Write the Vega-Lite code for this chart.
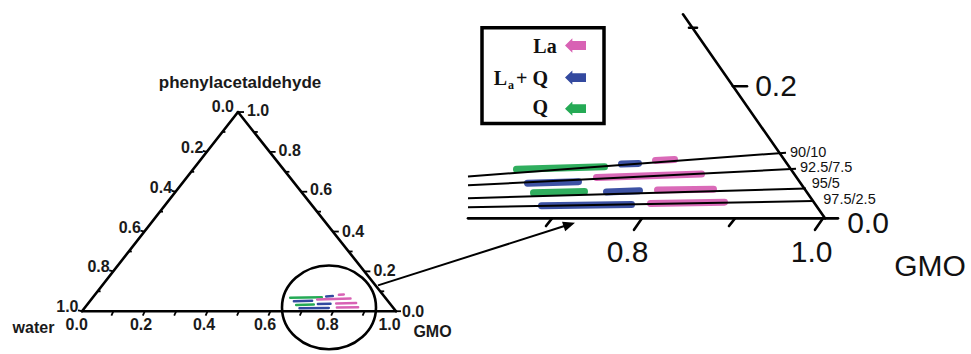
{
  "$schema": "https://vega.github.io/schema/vega-lite/v6.json",
  "width": 971,
  "height": 354,
  "autosize": {"type": "fit", "contains": "padding"},
  "padding": 0,
  "background": "white",
  "config": {"view": {"stroke": null}},
  "datasets": {
    "segs": [
      {"g": "frame", "x": 82, "y": 325, "x2": 396, "y2": 325},
      {"g": "frame", "x": 82, "y": 325, "x2": 238, "y2": 117},
      {"g": "frame", "x": 238, "y": 117, "x2": 396, "y2": 325},
      {"g": "frame", "x": 468, "y": 228, "x2": 838, "y2": 228},
      {"g": "frame", "x": 683, "y": 15, "x2": 825, "y2": 228},
      {"g": "frame", "x": 552, "y": 228, "x2": 546, "y2": 236},
      {"g": "frame", "x": 642, "y": 228, "x2": 634, "y2": 240},
      {"g": "frame", "x": 735, "y": 228, "x2": 729, "y2": 236},
      {"g": "frame", "x": 823, "y": 228, "x2": 815, "y2": 240},
      {"g": "frame", "x": 733, "y": 90, "x2": 747, "y2": 90},
      {"g": "frame", "x": 689, "y": 29, "x2": 697, "y2": 29},
      {"g": "tie", "x": 468, "y": 184.2, "x2": 786, "y2": 159.4},
      {"g": "tie", "x": 468, "y": 193.5, "x2": 796, "y2": 176.3},
      {"g": "tie", "x": 468, "y": 207, "x2": 806, "y2": 196.8},
      {"g": "tie", "x": 468, "y": 216.3, "x2": 813, "y2": 210},
      {"g": "tie", "x": 378, "y": 298, "x2": 566, "y2": 235.5},
      {"g": "tick", "x": 238, "y": 117, "x2": 244, "y2": 117},
      {"g": "tick", "x": 253.8, "y": 137.8, "x2": 257.8, "y2": 137.8},
      {"g": "tick", "x": 269.6, "y": 158.6, "x2": 275.6, "y2": 158.6},
      {"g": "tick", "x": 285.4, "y": 179.4, "x2": 289.4, "y2": 179.4},
      {"g": "tick", "x": 301.2, "y": 200.2, "x2": 307.2, "y2": 200.2},
      {"g": "tick", "x": 317, "y": 221, "x2": 321, "y2": 221},
      {"g": "tick", "x": 332.8, "y": 241.8, "x2": 338.8, "y2": 241.8},
      {"g": "tick", "x": 348.6, "y": 262.6, "x2": 352.6, "y2": 262.6},
      {"g": "tick", "x": 364.4, "y": 283.4, "x2": 370.4, "y2": 283.4},
      {"g": "tick", "x": 380.2, "y": 304.2, "x2": 384.2, "y2": 304.2},
      {"g": "tick", "x": 396, "y": 325, "x2": 401, "y2": 325},
      {"g": "tick", "x": 206.8, "y": 158.6, "x2": 202.8, "y2": 157.6},
      {"g": "tick", "x": 175.6, "y": 200.2, "x2": 171.6, "y2": 199.2},
      {"g": "tick", "x": 144.4, "y": 241.8, "x2": 140.4, "y2": 240.8},
      {"g": "tick", "x": 113.2, "y": 283.4, "x2": 109.2, "y2": 282.4},
      {"g": "tick", "x": 82, "y": 325, "x2": 78, "y2": 324},
      {"g": "tick", "x": 222.4, "y": 137.8, "x2": 225.4, "y2": 137.8},
      {"g": "tick", "x": 191.2, "y": 179.4, "x2": 194.2, "y2": 179.4},
      {"g": "tick", "x": 160, "y": 221, "x2": 163, "y2": 221},
      {"g": "tick", "x": 128.8, "y": 262.6, "x2": 131.8, "y2": 262.6},
      {"g": "tick", "x": 97.6, "y": 304.2, "x2": 100.6, "y2": 304.2},
      {"g": "tick", "x": 113.4, "y": 325, "x2": 111.4, "y2": 329.5},
      {"g": "tick", "x": 144.8, "y": 325, "x2": 142.8, "y2": 329.5},
      {"g": "tick", "x": 176.2, "y": 325, "x2": 174.2, "y2": 329.5},
      {"g": "tick", "x": 207.6, "y": 325, "x2": 205.6, "y2": 329.5},
      {"g": "tick", "x": 239, "y": 325, "x2": 237, "y2": 329.5},
      {"g": "tick", "x": 270.4, "y": 325, "x2": 268.4, "y2": 329.5},
      {"g": "tick", "x": 301.8, "y": 325, "x2": 299.8, "y2": 329.5},
      {"g": "tick", "x": 333.2, "y": 325, "x2": 331.2, "y2": 329.5},
      {"g": "tick", "x": 364.6, "y": 325, "x2": 362.6, "y2": 329.5}
    ],
    "bars": [
      {"panel": "zoom", "phase": "Q", "x": 516.5, "y": 176.8, "x2": 604.5, "y2": 174.2},
      {"panel": "zoom", "phase": "La+Q", "x": 621.5, "y": 171.3, "x2": 638.5, "y2": 170.7},
      {"panel": "zoom", "phase": "La", "x": 655.5, "y": 167.5, "x2": 674.5, "y2": 166.5},
      {"panel": "zoom", "phase": "La+Q", "x": 527.5, "y": 191.3, "x2": 578.5, "y2": 189.7},
      {"panel": "zoom", "phase": "La", "x": 596.5, "y": 185.3, "x2": 701.5, "y2": 181.7},
      {"panel": "zoom", "phase": "Q", "x": 533.5, "y": 201.4, "x2": 584.5, "y2": 200.1},
      {"panel": "zoom", "phase": "La+Q", "x": 606.5, "y": 200.4, "x2": 639.5, "y2": 199.1},
      {"panel": "zoom", "phase": "La", "x": 657.5, "y": 198.4, "x2": 713.5, "y2": 197.6},
      {"panel": "zoom", "phase": "La+Q", "x": 541.5, "y": 214.9, "x2": 631.5, "y2": 213.6},
      {"panel": "zoom", "phase": "La", "x": 650.5, "y": 212.4, "x2": 724.5, "y2": 211.1},
      {"panel": "inset", "phase": "Q", "x": 290.2, "y": 311, "x2": 321.8, "y2": 310.3},
      {"panel": "inset", "phase": "La+Q", "x": 326.2, "y": 309.5, "x2": 332.8, "y2": 309.1},
      {"panel": "inset", "phase": "La", "x": 338.9, "y": 307.9, "x2": 343.8, "y2": 307.5},
      {"panel": "inset", "phase": "La+Q", "x": 293.9, "y": 314.6, "x2": 312.1, "y2": 314},
      {"panel": "inset", "phase": "La", "x": 317.2, "y": 312.8, "x2": 350.5, "y2": 311.8},
      {"panel": "inset", "phase": "Q", "x": 296.2, "y": 318.5, "x2": 313.8, "y2": 318.1},
      {"panel": "inset", "phase": "La+Q", "x": 317.9, "y": 317.5, "x2": 330.5, "y2": 317.1},
      {"panel": "inset", "phase": "La", "x": 336.2, "y": 316.9, "x2": 356.1, "y2": 316.5},
      {"panel": "inset", "phase": "La+Q", "x": 299.5, "y": 321.9, "x2": 328.8, "y2": 321.5},
      {"panel": "inset", "phase": "La", "x": 336.9, "y": 321.2, "x2": 358.1, "y2": 320.8}
    ],
    "labels": [
      {"g": "tl", "t": "0.0", "x": 234, "y": 116.5},
      {"g": "tl", "t": "0.2", "x": 203.3, "y": 159.6},
      {"g": "tl", "t": "0.4", "x": 172.1, "y": 201.2},
      {"g": "tl", "t": "0.6", "x": 140.9, "y": 242.8},
      {"g": "tl", "t": "0.8", "x": 109.7, "y": 284.4},
      {"g": "tl", "t": "1.0", "x": 78.5, "y": 326},
      {"g": "tr", "t": "1.0", "x": 247, "y": 120.7},
      {"g": "tr", "t": "0.8", "x": 278.6, "y": 162.4},
      {"g": "tr", "t": "0.6", "x": 310, "y": 204},
      {"g": "tr", "t": "0.4", "x": 342, "y": 247},
      {"g": "tr", "t": "0.2", "x": 373.4, "y": 288.4},
      {"g": "tr", "t": "0.0", "x": 402, "y": 330.7},
      {"g": "tb", "t": "0.0", "x": 76.7, "y": 344.7},
      {"g": "tb", "t": "0.2", "x": 141, "y": 344.7},
      {"g": "tb", "t": "0.4", "x": 204, "y": 344.7},
      {"g": "tb", "t": "0.6", "x": 265, "y": 344.7},
      {"g": "tb", "t": "0.8", "x": 327.5, "y": 344.7},
      {"g": "tb", "t": "1.0", "x": 389.5, "y": 344.7},
      {"g": "name", "t": "water", "x": 33.5, "y": 347.5},
      {"g": "name", "t": "GMO", "x": 432.5, "y": 352},
      {"g": "title", "t": "phenylacetaldehyde", "x": 240, "y": 91.5},
      {"g": "big", "t": "0.2", "x": 776, "y": 100.7},
      {"g": "big", "t": "0.0", "x": 868, "y": 243.2},
      {"g": "big", "t": "0.8", "x": 627.5, "y": 273.2},
      {"g": "big", "t": "1.0", "x": 811.7, "y": 273.2},
      {"g": "big", "t": "GMO", "x": 930, "y": 288.2},
      {"g": "tie", "t": "90/10", "x": 790, "y": 163.9},
      {"g": "tie", "t": "92.5/7.5", "x": 800, "y": 180.1},
      {"g": "tie", "t": "95/5", "x": 811.7, "y": 196.3},
      {"g": "tie", "t": "97.5/2.5", "x": 823.3, "y": 212.8},
      {"g": "leg", "t": "La", "x": 556.7, "y": 55.5},
      {"g": "leg", "t": "L", "x": 507, "y": 88.5},
      {"g": "leg", "t": "+", "x": 527.5, "y": 88.5},
      {"g": "leg", "t": "Q", "x": 548, "y": 88.5},
      {"g": "leg", "t": "Q", "x": 548, "y": 119},
      {"g": "sub", "t": "a", "x": 508, "y": 93}
    ],
    "legendArrows": [
      {"phase": "La", "x": 575.5, "y": 47.5},
      {"phase": "La+Q", "x": 575.5, "y": 81},
      {"phase": "Q", "x": 575.5, "y": 113.5}
    ],
    "legendBox": [{"x": 482, "y": 29, "x2": 604, "y2": 129}],
    "ellipse": [{"x": 329, "y": 321}],
    "arrowHead": [{"x": 575, "y": 232.5}]
  },
  "encoding": {
    "x": {"field": "x", "type": "quantitative", "scale": {"domain": [0, 971], "nice": false, "zero": false}, "axis": null},
    "y": {"field": "y", "type": "quantitative", "scale": {"domain": [0, 354], "nice": false, "zero": false, "reverse": true}, "axis": null}
  },
  "layer": [
    {
      "data": {"name": "bars"},
      "transform": [{"filter": "datum.panel === 'zoom'"}],
      "mark": {"type": "rule", "strokeWidth": 7, "strokeCap": "round", "opacity": 0.95},
      "encoding": {
        "x2": {"field": "x2"},
        "y2": {"field": "y2"},
        "color": {"field": "phase", "type": "nominal", "scale": {"domain": ["La", "La+Q", "Q"], "range": ["#d862b4", "#33499f", "#25aa55"]}, "legend": null}
      }
    },
    {
      "data": {"name": "bars"},
      "transform": [{"filter": "datum.panel === 'inset'"}],
      "mark": {"type": "rule", "strokeWidth": 2.5, "strokeCap": "round"},
      "encoding": {
        "x2": {"field": "x2"},
        "y2": {"field": "y2"},
        "color": {"field": "phase", "type": "nominal", "scale": {"domain": ["La", "La+Q", "Q"], "range": ["#d862b4", "#33499f", "#25aa55"]}, "legend": null}
      }
    },
    {
      "data": {"name": "segs"},
      "transform": [{"filter": "datum.g === 'frame'"}],
      "mark": {"type": "rule", "strokeWidth": 2.6, "color": "black", "strokeCap": "round"},
      "encoding": {"x2": {"field": "x2"}, "y2": {"field": "y2"}}
    },
    {
      "data": {"name": "segs"},
      "transform": [{"filter": "datum.g === 'tie'"}],
      "mark": {"type": "rule", "strokeWidth": 2, "color": "black"},
      "encoding": {"x2": {"field": "x2"}, "y2": {"field": "y2"}}
    },
    {
      "data": {"name": "segs"},
      "transform": [{"filter": "datum.g === 'tick'"}],
      "mark": {"type": "rule", "strokeWidth": 1.8, "color": "black"},
      "encoding": {"x2": {"field": "x2"}, "y2": {"field": "y2"}}
    },
    {
      "data": {"name": "ellipse"},
      "mark": {"type": "point", "shape": "M 1 0 C 1 0.4916 0.5523 0.89 0 0.89 C -0.5523 0.89 -1 0.4916 -1 0 C -1 -0.4916 -0.5523 -0.89 0 -0.89 C 0.5523 -0.89 1 -0.4916 1 0 Z", "size": 8836, "filled": false, "stroke": "black", "strokeWidth": 2.6, "opacity": 1}
    },
    {
      "data": {"name": "arrowHead"},
      "mark": {"type": "point", "shape": "M 0 0 L -1 -0.42 L -1 0.42 Z", "size": 576, "angle": 341.6, "filled": true, "color": "black", "opacity": 1}
    },
    {
      "data": {"name": "legendBox"},
      "mark": {"type": "rect", "filled": false, "stroke": "black", "strokeWidth": 3.5},
      "encoding": {"x2": {"field": "x2"}, "y2": {"field": "y2"}}
    },
    {
      "data": {"name": "legendArrows"},
      "mark": {"type": "point", "shape": "M -1 0 L -0.3 -0.68 L -0.3 -0.42 L 1 -0.42 L 1 0.42 L -0.3 0.42 L -0.3 0.68 Z", "size": 441, "filled": true, "opacity": 1},
      "encoding": {
        "color": {"field": "phase", "type": "nominal", "scale": {"domain": ["La", "La+Q", "Q"], "range": ["#d862b4", "#33499f", "#25aa55"]}, "legend": null}
      }
    },
    {
      "data": {"name": "labels"},
      "transform": [{"filter": "datum.g === 'tl'"}],
      "mark": {"type": "text", "align": "right", "baseline": "alphabetic", "font": "Liberation Sans", "fontSize": 16, "fontWeight": "bold", "color": "#1a1a1a"},
      "encoding": {"text": {"field": "t"}}
    },
    {
      "data": {"name": "labels"},
      "transform": [{"filter": "datum.g === 'tr'"}],
      "mark": {"type": "text", "align": "left", "baseline": "alphabetic", "font": "Liberation Sans", "fontSize": 16, "fontWeight": "bold", "color": "#1a1a1a"},
      "encoding": {"text": {"field": "t"}}
    },
    {
      "data": {"name": "labels"},
      "transform": [{"filter": "datum.g === 'tb' || datum.g === 'name'"}],
      "mark": {"type": "text", "align": "center", "baseline": "alphabetic", "font": "Liberation Sans", "fontSize": 16, "fontWeight": "bold", "color": "#1a1a1a"},
      "encoding": {"text": {"field": "t"}}
    },
    {
      "data": {"name": "labels"},
      "transform": [{"filter": "datum.g === 'title'"}],
      "mark": {"type": "text", "align": "center", "baseline": "alphabetic", "font": "Liberation Sans", "fontSize": 17, "fontWeight": "bold", "color": "#1a1a1a"},
      "encoding": {"text": {"field": "t"}}
    },
    {
      "data": {"name": "labels"},
      "transform": [{"filter": "datum.g === 'big'"}],
      "mark": {"type": "text", "align": "center", "baseline": "alphabetic", "font": "Liberation Sans", "fontSize": 30, "color": "#111111"},
      "encoding": {"text": {"field": "t"}}
    },
    {
      "data": {"name": "labels"},
      "transform": [{"filter": "datum.g === 'tie'"}],
      "mark": {"type": "text", "align": "left", "baseline": "alphabetic", "font": "Liberation Sans", "fontSize": 14.5, "color": "#111111"},
      "encoding": {"text": {"field": "t"}}
    },
    {
      "data": {"name": "labels"},
      "transform": [{"filter": "datum.g === 'leg'"}],
      "mark": {"type": "text", "align": "right", "baseline": "alphabetic", "font": "Liberation Serif", "fontSize": 20, "fontWeight": "bold", "color": "#111111"},
      "encoding": {"text": {"field": "t"}}
    },
    {
      "data": {"name": "labels"},
      "transform": [{"filter": "datum.g === 'sub'"}],
      "mark": {"type": "text", "align": "left", "baseline": "alphabetic", "font": "Liberation Serif", "fontSize": 12, "fontWeight": "bold", "color": "#111111"},
      "encoding": {"text": {"field": "t"}}
    }
  ]
}
